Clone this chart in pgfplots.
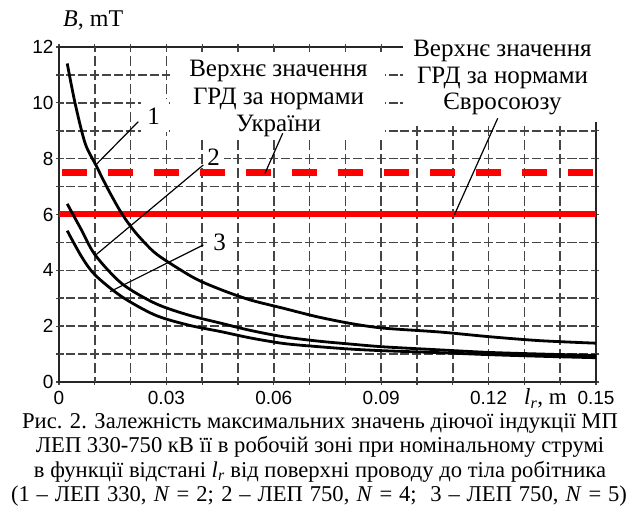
\documentclass[border=0pt]{standalone}
\usepackage{fontspec}
\setmainfont{Liberation Serif}
\newfontfamily\arial{Liberation Sans}
\usepackage{pgfplots}
\pgfplotsset{compat=1.18}
\definecolor{gridc}{HTML}{454545}
\begin{document}
\begin{tikzpicture}[x=1pt,y=1pt]
\useasboundingbox (0,0) rectangle (636,521);
\begin{axis}[
  at={(59pt,139pt)}, anchor=south west,
  scale only axis, width=537pt, height=335pt,
  xmin=0, xmax=0.15, ymin=0, ymax=12,
  xtick={0,0.03,0.06,0.09,0.12,0.15},
  xticklabels={0,0.03,0.06,0.09,0.12,0.15},
  minor xtick={0.01,0.02,0.04,0.05,0.07,0.08,0.10,0.11,0.13,0.14},
  ytick={0,2,4,6,8,10,12},
  minor ytick={1,3,5,7,9,11},
  tick align=outside, major tick length=3pt, minor tick length=3pt,
  tick style={gridc, line width=1.2pt},
  axis line style={draw=black!85, line width=1.4pt},
  ticklabel style={font=\arial\fontsize{19}{19}\selectfont},
  xticklabel style={yshift=-3pt},
  yticklabel style={xshift=1pt},
  /pgf/number format/assume math mode=true,
  clip=false,
]
% dashed grid
\pgfplotsinvokeforeach{0.01,0.02,0.03,0.04,0.05,0.06,0.07,0.08,0.09,0.10,0.11,0.12,0.13,0.14}{
  \draw[gridc, line width=1.6pt, dash pattern=on 10pt off 3.96pt, dash phase=5pt] (axis cs:#1,0) -- (axis cs:#1,12);
}
\pgfplotsinvokeforeach{1,2,3,4,5,6,7,8,9,10,11}{
  \draw[gridc, line width=1.6pt, dash pattern=on 9pt off 2.93pt, dash phase=4.5pt] (axis cs:0,#1) -- (axis cs:0.15,#1);
}
% red limits
\addplot[red, line width=6pt] coordinates {(0,6) (0.15,6)};
\addplot[red, line width=6.5pt, dash pattern=on 25pt off 21pt, dash phase=43pt] coordinates {(0,7.5) (0.15,7.5)};
% curve 1
\addplot[black, line width=2.8pt, smooth, tension=0.5] coordinates {
(0.0023,11.41) (0.0045,9.98) (0.0073,8.55) (0.0103,7.77) (0.0138,6.88) (0.0175,6.04)
(0.0212,5.38) (0.0259,4.73) (0.0296,4.37) (0.038,3.71) (0.0454,3.30) (0.0534,2.94)
(0.0627,2.64) (0.072,2.34) (0.0813,2.10) (0.0906,1.93) (0.1064,1.79) (0.1204,1.62)
(0.1344,1.48) (0.15,1.39)};
% curve 2
\addplot[black, line width=2.8pt, smooth, tension=0.5] coordinates {
(0.0023,6.38) (0.0063,5.44) (0.0101,4.55) (0.0175,3.53) (0.0268,2.82) (0.0361,2.40)
(0.0454,2.10) (0.0534,1.85) (0.0627,1.62) (0.072,1.47) (0.0813,1.36) (0.0906,1.26)
(0.1064,1.15) (0.120,1.06) (0.135,1.00) (0.15,0.95)};
% curve 3
\addplot[black, line width=2.8pt, smooth, tension=0.5] coordinates {
(0.0023,5.42) (0.0063,4.49) (0.0101,3.83) (0.0175,3.06) (0.0268,2.40) (0.0361,2.04)
(0.0454,1.80) (0.0534,1.58) (0.0627,1.38) (0.072,1.27) (0.0813,1.18) (0.0906,1.12)
(0.1064,1.05) (0.120,0.98) (0.135,0.92) (0.15,0.87)};
\end{axis}
% white label boxes
\fill[white] (170,468) rectangle (385,383);
\fill[white] (403,486) rectangle (605,399);
\fill[white] (141,422) rectangle (169,389);
\fill[white] (203,375) rectangle (224,353);
\fill[white] (208,291) rectangle (232,265);
% leader lines
\begin{scope}[black, line width=1.2pt]
\draw (95.7,356) -- (138.3,399.3);
\draw (95.7,266) -- (203.3,356);
\draw (110,229.3) -- (203.3,276);
\draw (265,347.7) -- (282.7,387.7);
\draw (454.3,306) -- (497.7,402.7);
\end{scope}
\begin{scope}[font=\fontsize{25}{25}\selectfont, inner sep=0pt]
\node at (153.5,405) {1};
\node at (213.5,364) {2};
\node at (219.5,279) {3};
\end{scope}
\begin{scope}[font=\fontsize{25}{27}\selectfont, inner sep=0pt]
\node[anchor=base] at (278.5,444.3) {Верхнє значення};
\node[anchor=base] at (278.5,416.8) {ГРД за нормами};
\node[anchor=base] at (278.5,389.3) {України};
\node[anchor=base] at (502.5,464.3) {Верхнє значення};
\node[anchor=base] at (502.5,437.7) {ГРД за нормами};
\node[anchor=base] at (502.5,411) {Євросоюзу};
\end{scope}
% axis labels
\node[anchor=base west, inner sep=0pt, font=\fontsize{24}{24}\selectfont] at (63,494) {\textit{B}, mT};
\node[anchor=base west, inner sep=0pt, font=\fontsize{23}{23}\selectfont] at (524,116) {\textit{l}\textsubscript{\textit{r}}, m};
% caption
\begin{scope}[font=\fontsize{22.6}{24}\selectfont, inner sep=0pt]
\node[anchor=base] at (320,92.5) {Рис. 2. Залежність максимальних значень діючої індукції МП};
\node[anchor=base] at (320,68) {ЛЕП 330-750 кВ її в робочій зоні при номінальному струмі};
\node[anchor=base] at (320,43.5) {в функції відстані \textit{l}\textsubscript{\textit{r}} від поверхні проводу до тіла робітника};
\node[anchor=base] at (319,19.5) {\makebox[616pt][s]{(1 – ЛЕП 330, \textit{N} = 2; 2 – ЛЕП 750, \textit{N} = 4;\ \ 3 – ЛЕП 750, \textit{N} = 5)}};
\end{scope}
\end{tikzpicture}
\end{document}
